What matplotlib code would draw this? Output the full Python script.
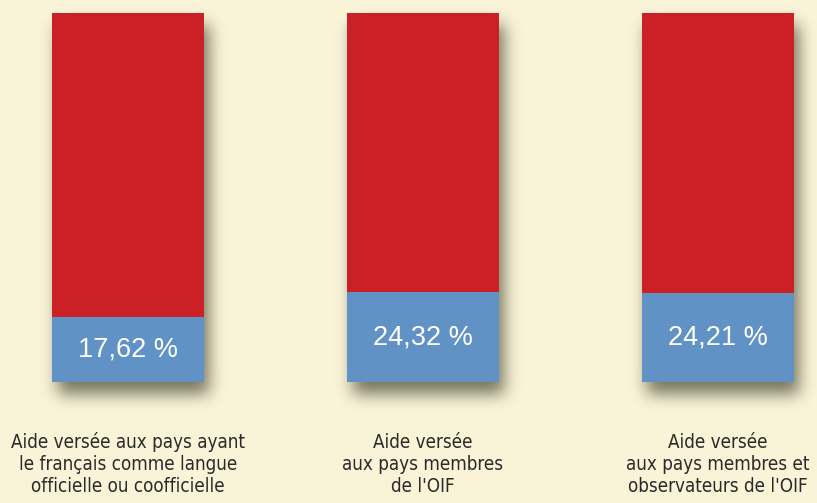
import numpy as np
import matplotlib.pyplot as plt

categories = [
    "Aide versée aux pays ayant\nle français comme langue\nofficielle ou coofficielle",
    "Aide versée\naux pays membres\nde l'OIF",
    "Aide versée\naux pays membres et\nobservateurs de l'OIF",
]
shares = [17.62, 24.32, 24.21]
labels = ["17,62 %", "24,32 %", "24,21 %"]

bg = "#F9F3D8"
red = "#CC2027"
blue = "#6192C6"

fig = plt.figure(figsize=(8.17, 5.03), dpi=100, facecolor=bg)
ax = fig.add_axes([0, 0.2406, 1, 0.7336], zorder=2)
ax.set_xlim(-0.434, 2.336)
ax.set_ylim(0, 100)
ax.axis("off")

x = np.arange(len(shares))
w = 0.515
rest = [100 - s for s in shares]

low = ax.bar(x, shares, w, color=blue, zorder=3)
high = ax.bar(x, rest, w, bottom=shares, color=red, zorder=3)

for xi, s, lab in zip(x, shares, labels):
    ax.text(xi, s / 2, lab, ha="center", va="center", color="white",
            fontsize=19.5, family="Liberation Sans", zorder=4)

for xi, cat in zip(x, categories):
    xf = ax.transData.transform((xi, 0))[0] / fig.bbox.width
    fig.text(xf, 1 - 464 / 503, cat, ha="center", va="center",
             fontsize=13.5, color="#2a2a2a", family="DejaVu Sans",
             fontstretch="condensed", linespacing=1.2)

# blurred drop shadow built from the bar extents
fig.canvas.draw()
H, W = int(fig.bbox.height), int(fig.bbox.width)
mask = np.zeros((H, W))
dx, dy = 6, 12
for a, b in zip(low, high):
    e1 = a.get_window_extent()
    e2 = b.get_window_extent()
    x0, x1 = int(e1.x0) + dx, int(e1.x1) + dx
    y0, y1 = int(e1.y0) - dy, int(e2.y1) - dy
    mask[max(y0, 0):y1, max(x0, 0):min(x1, W)] = 1.0

sig = 8.0
k = np.arange(-26, 27)
kern = np.exp(-k ** 2 / (2 * sig ** 2))
kern /= kern.sum()
mask = np.apply_along_axis(lambda r: np.convolve(r, kern, mode="same"), 1, mask)
mask = np.apply_along_axis(lambda c: np.convolve(c, kern, mode="same"), 0, mask)

shadow = np.zeros((H, W, 4))
shadow[..., :3] = np.array([0x3e, 0x3e, 0x28]) / 255
shadow[..., 3] = mask * 0.7
fig.figimage(shadow, 0, 0, origin="lower", zorder=1)

fig.savefig("out.png", dpi=100, facecolor=bg)
